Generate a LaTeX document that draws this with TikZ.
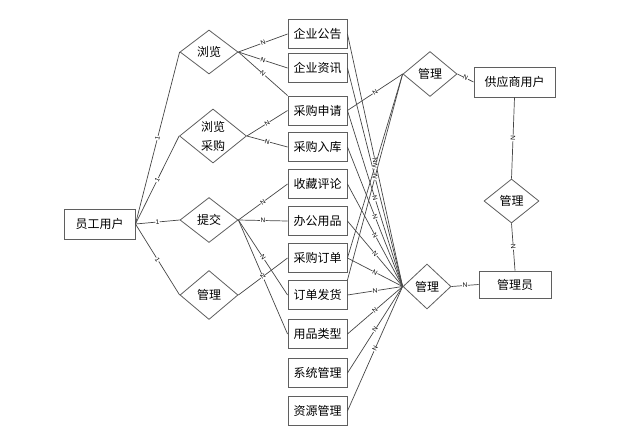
\documentclass[tikz,border=0pt]{standalone}
\usepackage{fontspec}
\setmainfont{Noto Sans CJK SC}
\newfontfamily\cardfont{Liberation Sans}
\usetikzlibrary{shapes.geometric}
\usepackage{xcolor}
\definecolor{BoxGray}{RGB}{95,95,95}
\definecolor{LineGray}{RGB}{70,70,70}
\tikzset{
  entity/.style={draw=BoxGray, rectangle, line width=0.9pt, fill=white,
    minimum width=59pt, minimum height=29pt, inner sep=1pt,
    font=\fontsize{12}{14}\selectfont},
  relation/.style={draw=BoxGray, diamond, line width=0.8pt, fill=white,
    minimum width=58pt, minimum height=45pt, inner sep=0pt, align=center,
    font=\fontsize{12}{14}\selectfont},
  link/.style={draw=LineGray, line width=0.7pt},
  card/.style={sloped, fill=white, inner sep=0.4pt,
    font=\cardfont\fontsize{6.5}{7}\selectfont}
}
\begin{document}
\begin{tikzpicture}[x=1pt, y=-1pt]
  \useasboundingbox (0,0) rectangle (620,440);
  % left: employee and its relations
  \node[entity, minimum width=71pt, minimum height=30pt] (yg) at (99.5,224) {员工用户};
  \node[relation, minimum height=44pt] (ll) at (209,52) {浏览};
  \node[relation, minimum width=67pt, minimum height=51pt] (llcg) at (213,136) {浏览\\[5pt]采购};
  \node[relation] (tj) at (209,220) {提交};
  \node[relation, minimum height=49pt] (glL) at (209,295) {管理};
  % middle column of entities
  \node[entity] (e1) at (317.5,34) {企业公告};
  \node[entity] (e2) at (317.5,68) {企业资讯};
  \node[entity] (e3) at (317.5,110.5) {采购申请};
  \node[entity] (e4) at (317.5,147) {采购入库};
  \node[entity] (e5) at (317.5,184) {收藏评论};
  \node[entity] (e6) at (317.5,221) {办公用品};
  \node[entity] (e7) at (317.5,258) {采购订单};
  \node[entity] (e8) at (317.5,295) {订单发货};
  \node[entity] (e9) at (317.5,334) {用品类型};
  \node[entity] (e10) at (317.5,373) {系统管理};
  \node[entity] (e11) at (317.5,411) {资源管理};
  % right: supplier and admin
  \node[relation, minimum width=54pt] (glT) at (430,74) {管理};
  \node[relation, minimum width=48pt] (glB) at (427,286.5) {管理};
  \node[relation, minimum width=55pt, minimum height=44pt] (glM) at (511.5,201) {管理};
  \node[entity, minimum width=81pt, minimum height=30pt] (gys) at (514.5,82) {供应商用户};
  \node[entity, minimum width=72pt, minimum height=27pt] (gly) at (515,284.5) {管理员};

  \draw[link] (yg.east) -- node[card] {1} (ll.west);
  \draw[link] (yg.east) -- node[card] {1} (llcg.west);
  \draw[link] (yg.east) -- node[card] {1} (tj.west);
  \draw[link] (yg.east) -- node[card] {1} (glL.west);

  \draw[link] (ll.east) -- node[card] {N} (e1.west);
  \draw[link] (ll.east) -- node[card] {N} (e2.west);
  \draw[link] (ll.east) -- node[card] {N} (e3.north west);
  \draw[link] (llcg.east) -- node[card] {N} (e3.west);
  \draw[link] (llcg.east) -- node[card] {N} (e4.west);
  \draw[link] (tj.east) -- node[card] {N} (e5.west);
  \draw[link] (tj.east) -- node[card] {N} (e6.west);
  \draw[link] (tj.east) -- node[card] {N} (e8.west);
  \draw[link] (tj.east) -- node[card] {N} (e9.west);
  \draw[link] (glL.east) -- node[card] {N} (e7.west);

  \foreach \e in {e1,e2,e3,e4,e5,e6,e7,e8,e9,e10,e11}
    \draw[link] (\e.east) -- node[card] {N} (glB.west);
  \draw[link] (e3.east) -- node[card] {N} (glT.west);
  \draw[link] (e7.east) -- node[card] {N} (glT.west);
  \draw[link] (e8.north east) -- node[card] {N} (glT.west);

  \draw[link] (glT.east) -- node[card] {N} (gys.west);
  \draw[link] (glB.east) -- node[card] {N} (gly.west);
  \draw[link] (gys.south) -- node[card] {N} (glM.north);
  \draw[link] (glM.south) -- node[card] {N} (gly.north);
\end{tikzpicture}
\end{document}
